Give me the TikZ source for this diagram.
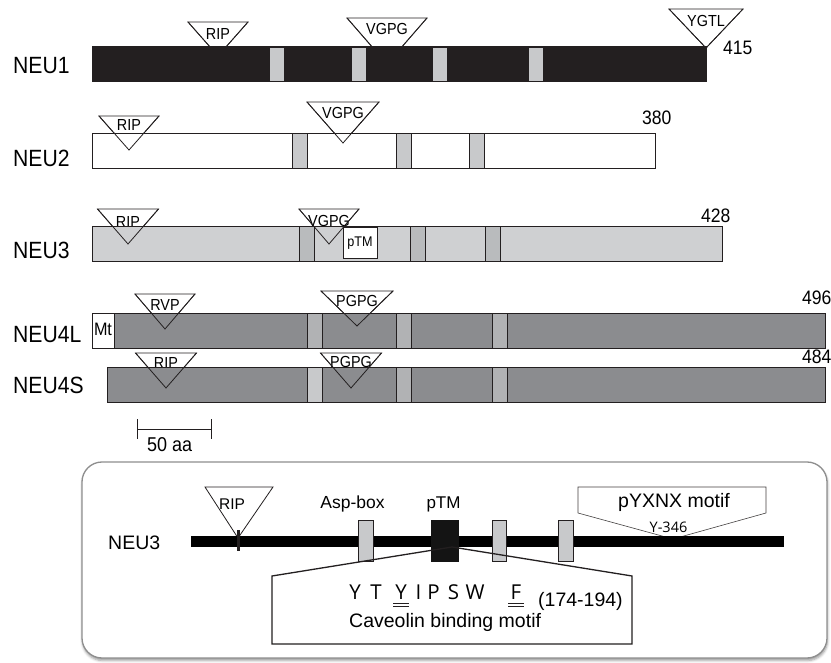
\documentclass[tikz,border=0pt]{standalone}
\usepackage{fontspec}
\setmainfont{Liberation Sans}
\newfontfamily\condsf{Liberation Sans}[FakeStretch=0.9]
\newfontfamily\seqsf{Open Sans}
\usetikzlibrary{calc,shadows.blur}
\definecolor{ink}{HTML}{231F20}
\definecolor{domlight}{HTML}{C8C9CB}
\definecolor{neuthree}{HTML}{CFD0D2}
\definecolor{domthree}{HTML}{B9BBBD}
\definecolor{neufour}{HTML}{8B8C8F}
\definecolor{domfour}{HTML}{B1B2B4}
\definecolor{panelline}{HTML}{8E8E8E}
\newcommand{\fsz}[1]{\fontsize{#1}{#1}\selectfont}
% name/x centre/top/width/height/label offset/label
\def\motiflist{rip1/218/22/60/34/18/RIP, vgpg1/387/18/80/46/17/VGPG, ygtl1/706/9/74/39/18/YGTL,
  rip2/129/116/60/34/15/RIP, vgpg2/343/102/72/41/17/VGPG,
  rip3/128/209/61/35/19/RIP, vgpg3/329/209/60/35/18/VGPG,
  rvp4/165/294/60/35/17/RVP, pgpg4/357/291/72/35/16/PGPG,
  rip5/166/353/61/35/16/RIP, pgpg5/351/353/61/35/15/PGPG}

\begin{document}
\begin{tikzpicture}[x=1pt, y=-1pt,
  protbar/.style={draw=ink, line width=0.9pt},
  dom/.style={draw=ink, line width=0.9pt, fill=#1},
  motifline/.style={draw=ink, line width=0.8pt, line join=miter},
  motiflabel/.style={anchor=base, inner sep=0pt, font=\condsf\fsz{16}},
  rowlabel/.style={anchor=base west, inner sep=0pt, font=\condsf\fsz{23.5}},
  endlabel/.style={anchor=base west, inner sep=0pt, font=\condsf\fsz{19.5}},
  boxtext/.style={anchor=base, inner sep=0pt, font=\fsz{#1}},
  seqletter/.style={anchor=base, inner sep=0pt, font=\seqsf\fsz{20.5}},
  uline/.style={draw=ink, line width=0.8pt},
  panel/.style={rounded corners=20pt, draw=panelline, line width=1.3pt, fill=white,
    blur shadow={shadow xshift=0.5pt, shadow yshift=-2.5pt, shadow blur radius=2.5pt}}
]
  \useasboundingbox (0,0) rectangle (831,663);

  % motif triangles, filled part first
  \foreach \n/\x/\t/\w/\h/\o/\l in \motiflist {
    \filldraw[motifline, fill=white] (\x-\w/2,\t) -- (\x+\w/2,\t) -- (\x,\t+\h) -- cycle;
    \node[motiflabel] (\n) at (\x,\t+\o) {\l};
  }

  % NEU1
  \fill[ink] (92,46) rectangle (707,82);
  \foreach \x in {270,352,433,529} \fill[domlight] (\x,48) rectangle +(14,33);
  % NEU2
  \draw[protbar, fill=white] (92,133) rectangle (655,168);
  \foreach \x in {292,396,469} \draw[dom=domlight] (\x,133) rectangle +(15,35);
  % NEU3
  \draw[protbar, fill=neuthree] (92,226) rectangle (722,261);
  \foreach \x in {299,410,485} \draw[dom=domthree] (\x,226) rectangle +(15,35);
  % NEU4L
  \draw[protbar, fill=neufour] (92,313) rectangle (825,348);
  \foreach \x in {307,396,492} \draw[dom=domfour] (\x,313) rectangle +(15,35);
  % NEU4S
  \draw[protbar, fill=neufour] (107,367) rectangle (825,402);
  \draw[dom=domlight] (307,367) rectangle +(15,35);
  \foreach \x in {396,492} \draw[dom=domfour] (\x,367) rectangle +(15,35);

  % triangle edges over the bars
  \foreach \n/\x/\t/\w/\h/\o/\l in \motiflist
    \draw[motifline] (\x-\w/2,\t) -- (\x,\t+\h) -- (\x+\w/2,\t);

  \draw[protbar, fill=white] (343,227) rectangle (377,258);
  \node[motiflabel, font=\condsf\fsz{14}] (ptm3) at (360,247) {pTM};
  \draw[protbar, fill=white] (92,313) rectangle (114,348);
  \node[motiflabel, font=\condsf\fsz{18}] (mt4) at (103,336) {Mt};

  \node[rowlabel] (neu1) at (13,74) {NEU1};
  \node[rowlabel] (neu2) at (13,167) {NEU2};
  \node[rowlabel] (neu3) at (13,259) {NEU3};
  \node[rowlabel] (neu4l) at (13,343) {NEU4L};
  \node[rowlabel] (neu4s) at (13,393) {NEU4S};

  \node[endlabel] (len1) at (723,55) {415};
  \node[endlabel] (len2) at (642,125) {380};
  \node[endlabel] (len3) at (701,223) {428};
  \node[endlabel] (len4l) at (802,305) {496};
  \node[endlabel] (len4s) at (802,363) {484};

  % scale bar
  \draw[ink, line width=0.9pt] (137,429) -- (211,429);
  \draw[ink, line width=0.9pt] (137,419) -- (137,439) (211,419) -- (211,439);
  \node[endlabel, font=\condsf\fsz{20}] (scale) at (147,451) {50 aa};

  % NEU3 detail panel
  \draw[panel] (82,462) rectangle (827,658);
  \filldraw[draw=ink!85, line width=0.6pt, fill=white] (578,487) -- (766,487) -- (766,513)
    -- (673,539) -- (578,513) -- cycle;
  \node[boxtext=19.5] (pyxnx) at (674,507.5) {pYXNX motif};
  \node[boxtext=14.5, font=\seqsf\fsz{14.5}] (y346) at (668.5,532) {Y-346};
  \filldraw[motifline, fill=white] (205,487) -- (273,487) -- (238,538) -- cycle;
  \node[boxtext=15.5] (ripb) at (232,509) {RIP};
  \fill[black] (191,536) rectangle (784,547);
  \fill[ink] (236.5,530) rectangle (239.5,551);
  \draw[dom=domlight] (358,520) rectangle (373,561);
  \fill[black!92] (431,520) rectangle (459,562);
  \draw[dom=domlight] (492,520) rectangle (506,561);
  \draw[dom=domlight] (558,520) rectangle (573,561);
  \node[boxtext=17.5] (aspbox) at (352.5,508) {Asp-box};
  \node[boxtext=17] (ptmb) at (443.5,508) {pTM};
  \node[boxtext=19.5, anchor=west] (neu3b) at (108,543) {NEU3};

  \draw[ink, line width=1.3pt, line join=miter] (272,576) -- (452,547) -- (632,576)
    -- (632,644) -- (272,644) -- cycle;
  \foreach \c/\x [count=\i] in {Y/355,T/376,Y/401,I/418.5,P/433.5,S/453.5,W/475,F/516}
    \node[seqletter] (aa\i) at (\x,599) {\c};
  \foreach \i in {3,8} {
    \draw[uline] ($(aa\i.base)+(-8,4)$) -- +(16,0);
    \draw[uline] ($(aa\i.base)+(-8,7.5)$) -- +(16,0);
  }
  \node[boxtext=19.5, anchor=base west] (range) at (538,606) {(174-194)};
  \node[boxtext=19.5, anchor=base west] (caveolin) at (349,627) {Caveolin binding motif};
\end{tikzpicture}
\end{document}
